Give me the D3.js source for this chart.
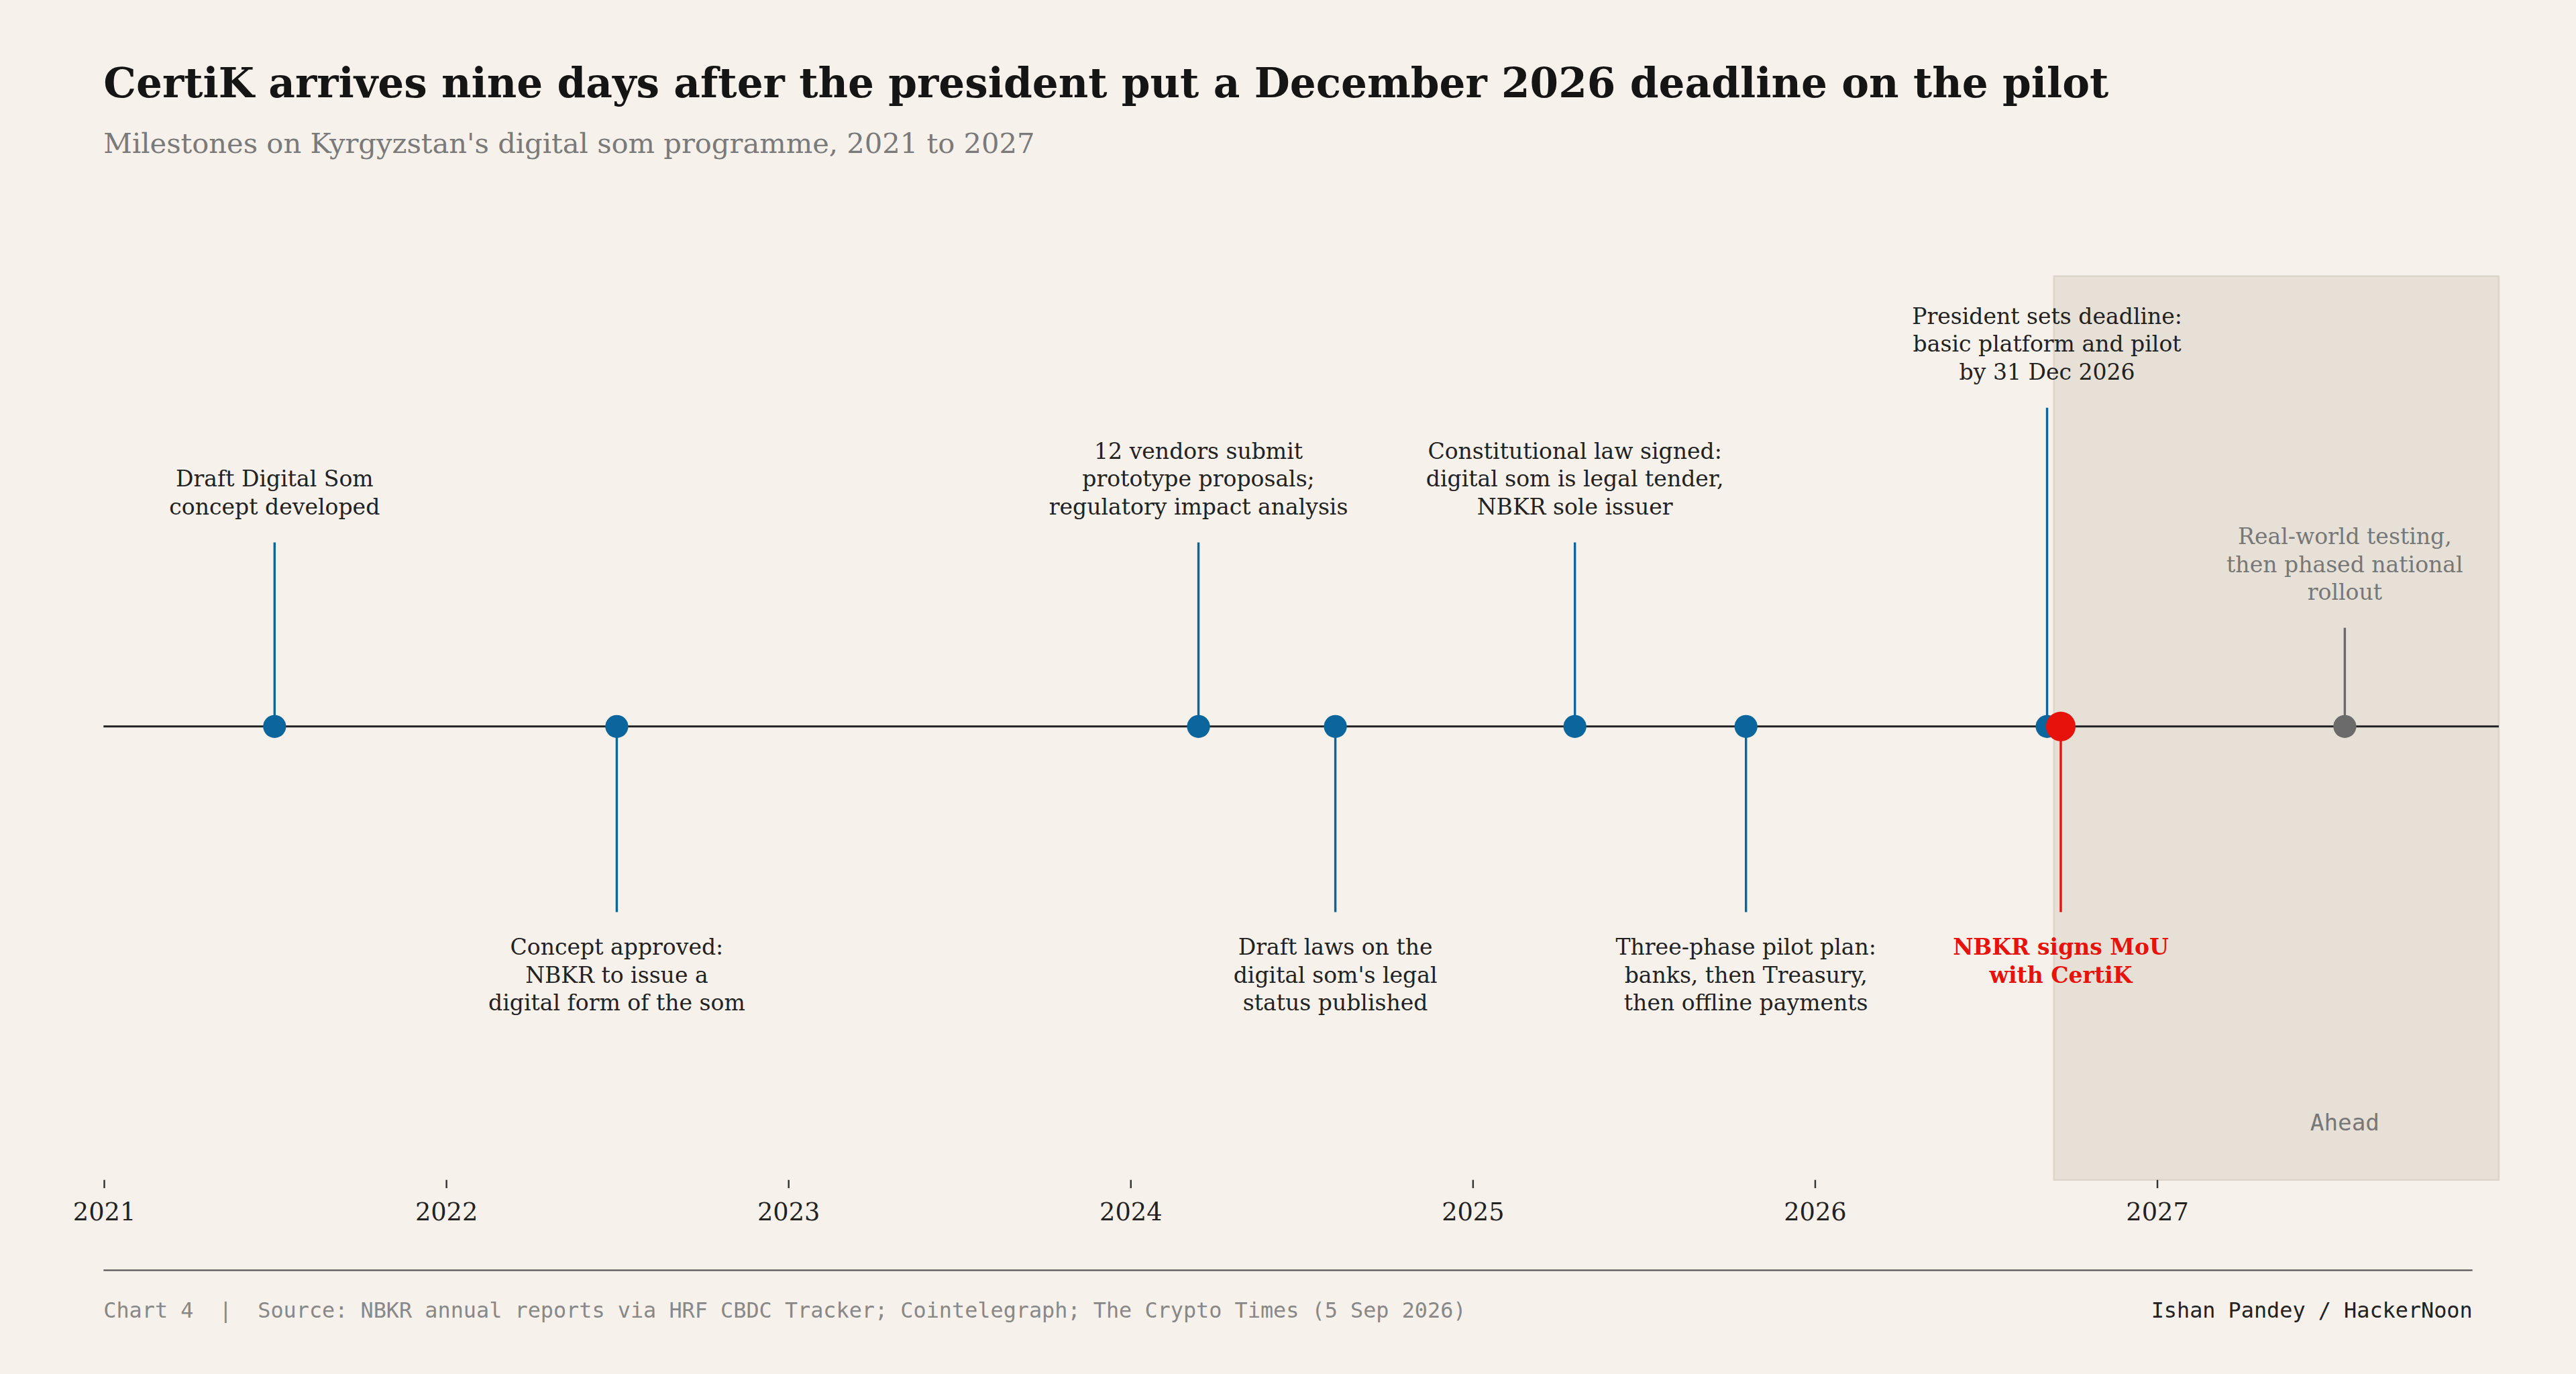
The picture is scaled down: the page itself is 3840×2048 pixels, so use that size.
<!DOCTYPE html>
<html><head><meta charset="utf-8">
<script src="https://cdn.jsdelivr.net/npm/d3@7"></script>
<style>body{margin:0;background:#f6f1ea}</style>
</head><body>
<svg id="chart" width="3840" height="2048" viewBox="0 0 1568 836"></svg>
<script>
// milestones: decimal date, label lines, side, kind
const dates = [2021.5, 2022.5, 2024.2, 2024.6, 2025.3, 2025.8, 2026.68, 2026.72, 2027.55];
const labels = [
  ["Draft Digital Som", "concept developed"],
  ["Concept approved:", "NBKR to issue a", "digital form of the som"],
  ["12 vendors submit", "prototype proposals;", "regulatory impact analysis"],
  ["Draft laws on the", "digital som's legal", "status published"],
  ["Constitutional law signed:", "digital som is legal tender,", "NBKR sole issuer"],
  ["Three-phase pilot plan:", "banks, then Treasury,", "then offline payments"],
  ["President sets deadline:", "basic platform and pilot", "by 31 Dec 2026"],
  ["NBKR signs MoU", "with CertiK"],
  ["Real-world testing,", "then phased national", "rollout"]
];
const sides = ["up", "down", "up", "down", "up", "down", "up", "down", "up"];
const kinds = ["past", "past", "past", "past", "past", "past", "past", "certik", "future"];
const stemEnds = [330, 555, 330, 555, 330, 555, 248, 555, 382];
const tickYears = [2021, 2022, 2023, 2024, 2025, 2026, 2027];
const aheadStart = 2026.7;

const serif = "'DejaVu Serif', serif", mono = "'DejaVu Sans Mono', monospace";
const colors = {past: "#0b669e", certik: "#e8120c", future: "#6b6b6b"};
const textColors = {past: "#222", certik: "#e8120c", future: "#777"};

const svg = d3.select("#chart");
svg.append("rect").attr("width", 1568).attr("height", 836).attr("fill", "#f6f1ea");

const x = d3.scaleLinear().domain([2021, 2028]).range([63, 1521]);
const lineY = 442, axisY = 718;

svg.append("rect").attr("x", x(aheadStart)).attr("y", 168)
  .attr("width", x(2028) - x(aheadStart)).attr("height", axisY - 168)
  .attr("fill", "#e6e0d6").attr("stroke", "#dcd5ca");
svg.append("text").attr("x", x(2027.55)).attr("y", 688).attr("text-anchor", "middle")
  .attr("font-family", mono).attr("font-size", 14).attr("fill", "#777").text("Ahead");

svg.append("line").attr("x1", 63).attr("x2", 1521).attr("y1", lineY).attr("y2", lineY)
  .attr("stroke", "#222").attr("stroke-width", 1.2);

const axis = svg.append("g").attr("transform", `translate(0,${axisY})`)
  .call(d3.axisBottom(x).tickValues(tickYears).tickFormat(d3.format("d")).tickSize(5));
axis.select(".domain").remove();
axis.selectAll("line").attr("stroke", "#333");
axis.selectAll("text").attr("font-family", serif).attr("font-size", 15).attr("fill", "#222").attr("dy", "1.1em");

const ev = svg.selectAll("g.ev").data(dates.map((d, i) => ({d, i}))).enter().append("g");
ev.append("line")
  .attr("x1", e => x(e.d)).attr("x2", e => x(e.d))
  .attr("y1", lineY).attr("y2", e => stemEnds[e.i])
  .attr("stroke", e => colors[kinds[e.i]]).attr("stroke-width", 1.4);
ev.append("circle").attr("cx", e => x(e.d)).attr("cy", lineY)
  .attr("r", e => kinds[e.i] === "certik" ? 9 : 7)
  .attr("fill", e => colors[kinds[e.i]]);
ev.each(function(e) {
  const L = labels[e.i], k = kinds[e.i];
  const t = d3.select(this).append("text").attr("text-anchor", "middle")
    .attr("font-family", serif).attr("font-size", 13.5)
    .attr("font-weight", k === "certik" ? "bold" : "normal")
    .attr("fill", textColors[k]);
  const y0 = sides[e.i] === "up" ? stemEnds[e.i] - 17 - 17 * (L.length - 1) : stemEnds[e.i] + 26;
  L.forEach((s, j) => t.append("tspan").attr("x", x(e.d)).attr("y", y0 + 17 * j).text(s));
});

svg.append("text").attr("x", 63).attr("y", 59).attr("font-family", serif)
  .attr("font-size", 25).attr("font-weight", "bold").attr("fill", "#151515")
  .text("CertiK arrives nine days after the president put a December 2026 deadline on the pilot");
svg.append("text").attr("x", 63).attr("y", 93).attr("font-family", serif)
  .attr("font-size", 17).attr("fill", "#7a7a7a")
  .text("Milestones on Kyrgyzstan's digital som programme, 2021 to 2027");

svg.append("line").attr("x1", 63).attr("x2", 1505).attr("y1", 773).attr("y2", 773)
  .attr("stroke", "#555").attr("stroke-width", 1);
svg.append("text").attr("x", 63).attr("y", 802).attr("font-family", mono).attr("font-size", 13)
  .attr("fill", "#888").attr("xml:space", "preserve")
  .text("Chart 4  |  Source: NBKR annual reports via HRF CBDC Tracker; Cointelegraph; The Crypto Times (5 Sep 2026)");
svg.append("text").attr("x", 1505).attr("y", 802).attr("text-anchor", "end").attr("font-family", mono)
  .attr("font-size", 13).attr("fill", "#222").text("Ishan Pandey / HackerNoon");
</script>
</body></html>
